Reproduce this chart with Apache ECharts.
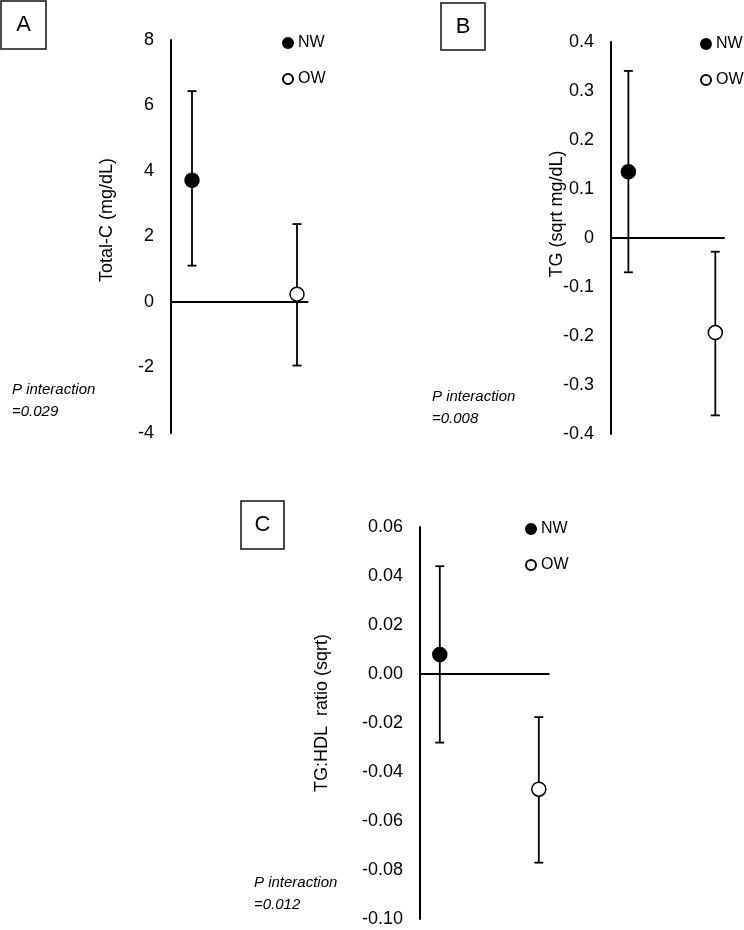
<!DOCTYPE html>
<html>
<head>
<meta charset="utf-8">
<script src="https://cdn.jsdelivr.net/npm/echarts@6/dist/echarts.min.js"></script>
<style>html,body{margin:0;padding:0;background:#fff;}#c{width:744px;height:930px;}</style>
</head>
<body>
<div id="c"></div>
<script>
// Groups (x positions 1 = NW, 2 = OW)
const groups = ['NW', 'OW'];
const groupX = [1, 2];

// Panel A: Total-C (mg/dL)
const aMean = [3.72, 0.24];
const aLow = [1.11, -1.94];
const aHigh = [6.44, 2.38];

// Panel B: TG (sqrt mg/dL)
const bMean = [0.135, -0.193];
const bLow = [-0.07, -0.362];
const bHigh = [0.341, -0.028];

// Panel C: TG:HDL ratio (sqrt)
const cMean = [0.008, -0.047];
const cLow = [-0.028, -0.077];
const cHigh = [0.044, -0.0176];

const panelLetters = ['A', 'B', 'C'];
const yTitles = ['Total-C (mg/dL)', 'TG (sqrt mg/dL)', 'TG:HDL  ratio (sqrt)'];
const pTexts = ['=0.029', '=0.008', '=0.012'];
const yMin = [-4, -0.4, -0.1], yMax = [8, 0.4, 0.06], yInt = [2, 0.1, 0.02];
const yDec = [0, 1, 2];

const FONT = '"Liberation Sans", Arial, sans-serif';
const chart = echarts.init(document.getElementById('c'));

const grids = [
  {left: 171, top: 40, width: 136.5, height: 393},
  {left: 611, top: 42, width: 113, height: 392},
  {left: 420, top: 527, width: 128.7, height: 392}
];
const legendPos = [
  {left: 282, top: 35},
  {left: 700, top: 36},
  {left: 525, top: 521}
];
const titlePos = [[107, 220], [557, 214], [322, 713]];
const pPos = [[12, 390], [432, 397], [254, 883]];
const boxPos = [[1, 1, 45, 48], [441, 3, 44, 47], [241, 501, 43, 48]];

const panels = [
  {mean: aMean, low: aLow, high: aHigh},
  {mean: bMean, low: bLow, high: bHigh},
  {mean: cMean, low: cLow, high: cHigh}
];

const xAxes = [], yAxes = [], series = [], legends = [], graphics = [];
panels.forEach((p, i) => {
  xAxes.push({
    type: 'value', gridIndex: i, min: 0.8, max: 2.1,
    axisLine: {show: true, onZero: true, lineStyle: {color: '#000', width: 2}},
    axisTick: {show: false}, axisLabel: {show: false}, splitLine: {show: false}
  });
  yAxes.push({
    type: 'value', gridIndex: i, min: yMin[i], max: yMax[i], interval: yInt[i],
    axisLine: {show: true, lineStyle: {color: '#000', width: 2}},
    axisTick: {show: false}, splitLine: {show: false},
    axisLabel: {
      color: '#000', fontSize: 18, fontFamily: FONT, margin: 17,
      formatter: v => {
        const r = Math.round(v * 1000) / 1000;
        if (yDec[i] === 1 && Math.abs(r) < 1e-9) return '0';
        return r.toFixed(yDec[i]);
      }
    }
  });
  const errData = groupX.map((x, k) => [x, p.low[k], p.high[k]]);
  series.push({
    type: 'custom', name: 'err' + i, xAxisIndex: i, yAxisIndex: i,
    data: errData, z: 2, silent: true,
    renderItem: (params, api) => {
      const x = api.value(0);
      const lo = api.coord([x, api.value(1)]);
      const hi = api.coord([x, api.value(2)]);
      const hw = 4.5;
      const st = {stroke: '#000', lineWidth: 1.8};
      return {type: 'group', children: [
        {type: 'line', shape: {x1: lo[0], y1: lo[1], x2: hi[0], y2: hi[1]}, style: st},
        {type: 'line', shape: {x1: lo[0] - hw, y1: lo[1], x2: lo[0] + hw, y2: lo[1]}, style: st},
        {type: 'line', shape: {x1: hi[0] - hw, y1: hi[1], x2: hi[0] + hw, y2: hi[1]}, style: st}
      ]};
    }
  });
  series.push({
    type: 'scatter', name: 'NW', xAxisIndex: i, yAxisIndex: i, z: 5,
    symbol: 'circle', symbolSize: 14,
    itemStyle: {color: '#000', borderColor: '#000', borderWidth: 1.5, opacity: 1},
    data: [[groupX[0], p.mean[0]]]
  });
  series.push({
    type: 'scatter', name: 'OW', xAxisIndex: i, yAxisIndex: i, z: 5,
    symbol: 'circle', symbolSize: 14,
    itemStyle: {color: '#fff', borderColor: '#000', borderWidth: 1.5, opacity: 1},
    data: [[groupX[1], p.mean[1]]]
  });
  legends.push({
    data: groups, orient: 'vertical', left: legendPos[i].left, top: legendPos[i].top,
    padding: 0,
    itemWidth: 10, itemHeight: 10, itemGap: 20, icon: 'circle', selectedMode: false,
    textStyle: {fontSize: 16, fontFamily: FONT, color: '#000'}
  });
  graphics.push({
    type: 'text', x: titlePos[i][0], y: titlePos[i][1], rotation: Math.PI / 2,
    style: {text: yTitles[i], font: '18px ' + FONT, fill: '#000', textAlign: 'center', textVerticalAlign: 'middle'}
  });
  graphics.push({
    type: 'text', x: pPos[i][0], y: pPos[i][1] - 8,
    style: {text: 'P interaction', font: 'italic 15px ' + FONT, fill: '#000'}
  });
  graphics.push({
    type: 'text', x: pPos[i][0], y: pPos[i][1] + 14,
    style: {text: pTexts[i], font: 'italic 15px ' + FONT, fill: '#000'}
  });
  const b = boxPos[i];
  graphics.push({
    type: 'rect', shape: {x: b[0], y: b[1], width: b[2], height: b[3]},
    style: {fill: '#fff', stroke: '#111', lineWidth: 1.5}
  });
  graphics.push({
    type: 'text', x: b[0] + b[2] / 2, y: b[1] + b[3] / 2,
    style: {text: panelLetters[i], font: '22px ' + FONT, fill: '#000', textAlign: 'center', textVerticalAlign: 'middle'}
  });
});

chart.setOption({
  animation: false,
  backgroundColor: '#fff',
  grid: grids,
  xAxis: xAxes,
  yAxis: yAxes,
  legend: legends,
  series: series,
  graphic: graphics
});
</script>
</body>
</html>
